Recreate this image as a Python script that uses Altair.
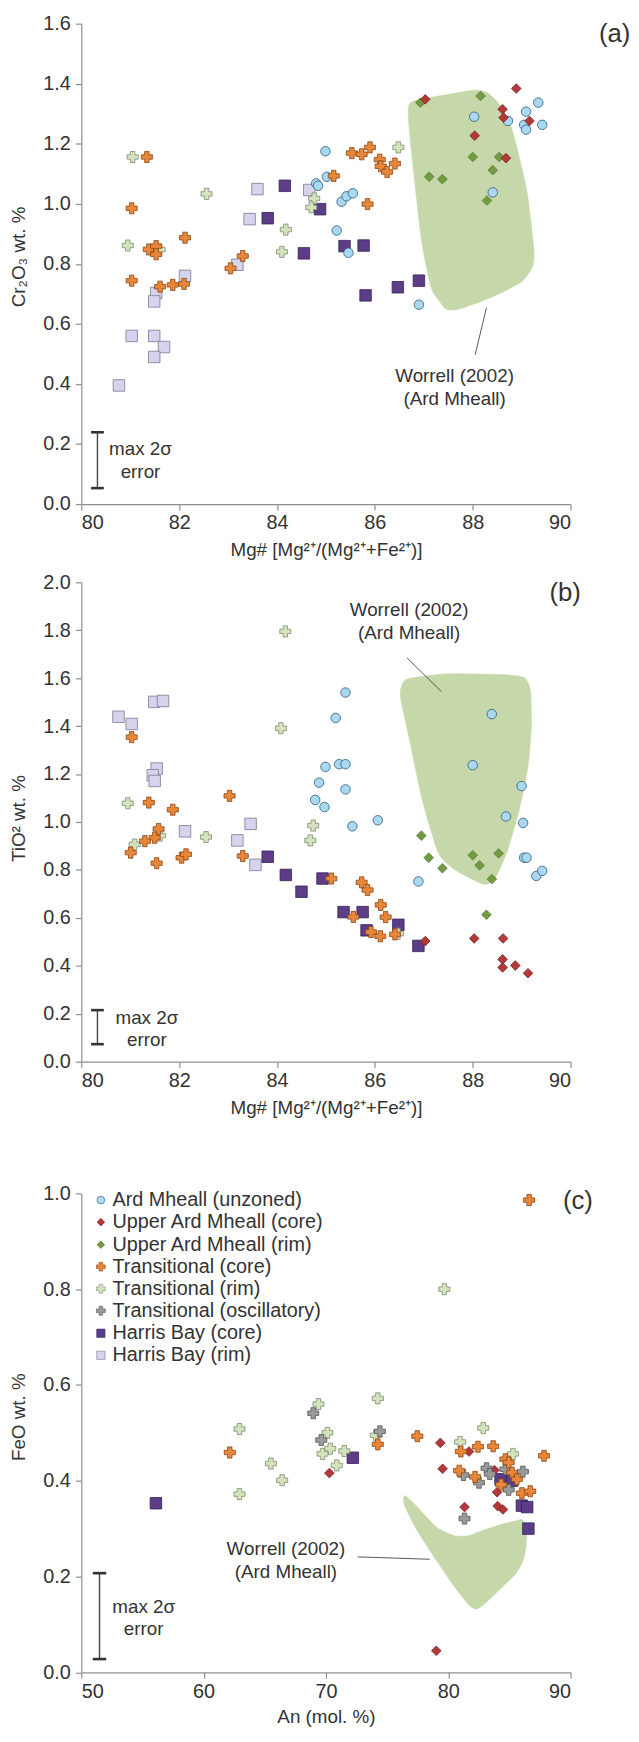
import altair as alt
import pandas as pd

FONT = "Liberation Sans, Arial, Helvetica, sans-serif"
TXT = "#333333"
GREEN_FIELD = "#c6d8aa"

# ---------------- groups / styles ----------------
groups = ["Ard Mheall (unzoned)", "Upper Ard Mheall (core)", "Upper Ard Mheall (rim)",
          "Transitional (core)", "Transitional (rim)", "Transitional (oscillatory)",
          "Harris Bay (core)", "Harris Bay (rim)"]
shapes = ["circle", "diamond", "diamond", "cross", "cross", "cross", "square", "square"]
fills = ["#a9d9f1", "#b3383a", "#739b43", "#e8863a", "#d3e3be", "#9a9a9a", "#5c3d87", "#d6d4ec"]
strokes = ["#2d5a74", "#7e2424", "#5b7d34", "#8a4714", "#7d8c6d", "#555555", "#362257", "#7b7993"]
sizes = [92, 95, 95, 125, 125, 125, 135, 135]
legend_sizes = [62, 60, 60, 80, 80, 80, 70, 70]
draw_order = [7, 6, 0, 2, 1, 4, 5, 3]

# ---------------- panel (a): Cr2O3 vs Mg# ----------------
a_amu_x = [84.99, 84.80, 84.84, 85.02, 85.32, 85.42, 85.55, 85.22, 85.46, 86.90, 88.03, 88.41, 88.72, 89.09, 89.34, 89.05, 89.09, 89.42]
a_amu_y = [1.175, 1.068, 1.060, 1.090, 1.007, 1.025, 1.035, 0.911, 0.837, 0.664, 1.290, 1.038, 1.276, 1.307, 1.337, 1.263, 1.247, 1.263]
a_uac_x = [87.03, 88.89, 88.61, 88.63, 89.16, 88.04, 88.68]
a_uac_y = [1.348, 1.384, 1.315, 1.287, 1.276, 1.227, 1.152]
a_uar_x = [86.93, 88.16, 88.00, 88.54, 88.41, 87.11, 87.38, 88.29]
a_uar_y = [1.337, 1.359, 1.156, 1.156, 1.112, 1.090, 1.082, 1.011]
a_tc_x = [81.34, 81.03, 81.03, 81.38, 81.53, 81.53, 81.61, 81.87, 82.10, 82.12, 83.05, 83.30, 85.16, 85.53, 85.73, 85.90, 86.10, 86.12, 86.25, 86.41, 85.85]
a_tc_y = [1.156, 0.985, 0.744, 0.848, 0.859, 0.832, 0.724, 0.730, 0.733, 0.887, 0.785, 0.826, 1.093, 1.169, 1.165, 1.188, 1.147, 1.125, 1.106, 1.134, 0.999]
a_tr_x = [81.05, 82.56, 80.95, 81.60, 84.18, 84.10, 84.76, 84.70, 86.48]
a_tr_y = [1.156, 1.033, 0.861, 0.848, 0.914, 0.840, 1.018, 0.988, 1.188]
a_hbc_x = [84.16, 83.81, 84.88, 84.55, 85.38, 85.77, 85.81, 86.47, 86.90]
a_hbc_y = [1.060, 0.952, 0.982, 0.835, 0.859, 0.861, 0.695, 0.722, 0.744]
a_hbr_x = [83.60, 83.44, 84.66, 83.19, 82.12, 81.53, 81.49, 81.03, 81.49, 81.69, 81.49, 80.77]
a_hbr_y = [1.049, 0.949, 1.046, 0.797, 0.760, 0.703, 0.675, 0.560, 0.560, 0.523, 0.490, 0.395]
a_poly_x = [86.70, 86.85, 88.00, 88.30, 88.55, 88.80, 89.10, 89.25, 89.22, 89.00, 88.40, 87.70, 87.45, 87.30, 87.15, 86.95, 86.73, 86.68]
a_poly_y = [1.330, 1.345, 1.378, 1.370, 1.330, 1.250, 1.050, 0.850, 0.790, 0.740, 0.690, 0.648, 0.650, 0.680, 0.720, 0.880, 1.200, 1.300]

# ---------------- panel (b): TiO2 vs Mg# ----------------
b_amu_x = [85.40, 85.20, 84.99, 85.27, 85.40, 84.86, 85.40, 84.78, 84.97, 85.54, 86.06, 88.39, 88.00, 89.00, 88.68, 89.03, 89.05, 89.10, 89.30, 89.42, 86.89]
b_amu_y = [1.540, 1.434, 1.230, 1.241, 1.241, 1.164, 1.136, 1.092, 1.062, 0.982, 1.007, 1.450, 1.237, 1.150, 1.023, 0.996, 0.851, 0.851, 0.775, 0.796, 0.752]
b_uac_x = [87.03, 88.03, 88.62, 88.61, 88.61, 88.87, 89.13]
b_uac_y = [0.503, 0.514, 0.514, 0.427, 0.393, 0.401, 0.369]
b_uar_x = [86.95, 87.10, 87.38, 88.00, 88.14, 88.53, 88.39, 88.28]
b_uar_y = [0.943, 0.851, 0.807, 0.861, 0.819, 0.869, 0.762, 0.613]
b_tc_x = [81.03, 81.38, 81.87, 83.03, 81.58, 81.50, 81.30, 81.01, 81.54, 82.05, 82.14, 83.30, 85.11, 85.73, 85.85, 86.12, 86.22, 85.56, 85.92, 86.11, 86.41]
b_tc_y = [1.354, 1.081, 1.051, 1.109, 0.971, 0.934, 0.920, 0.872, 0.828, 0.851, 0.865, 0.858, 0.764, 0.748, 0.716, 0.654, 0.603, 0.604, 0.541, 0.523, 0.531]
b_tr_x = [84.17, 84.08, 80.95, 81.09, 81.61, 82.55, 84.74, 84.68, 86.47]
b_tr_y = [1.795, 1.391, 1.078, 0.906, 0.943, 0.937, 0.985, 0.923, 0.534]
b_hbc_x = [83.81, 84.18, 84.50, 84.93, 85.36, 85.75, 85.83, 86.48, 86.89]
b_hbc_y = [0.855, 0.779, 0.709, 0.764, 0.624, 0.624, 0.548, 0.571, 0.483]
b_hbr_x = [80.76, 81.03, 81.49, 81.67, 81.54, 81.46, 81.50, 82.12, 83.19, 83.46, 83.56]
b_hbr_y = [1.439, 1.409, 1.501, 1.505, 1.223, 1.195, 1.171, 0.961, 0.923, 0.992, 0.821]
b_poly_x = [86.52, 86.65, 87.50, 88.60, 89.05, 89.18, 89.20, 89.13, 88.95, 88.72, 88.50, 88.32, 88.15, 87.64, 87.30, 86.97, 86.70]
b_poly_y = [1.530, 1.595, 1.618, 1.615, 1.603, 1.550, 1.400, 1.230, 1.050, 0.886, 0.780, 0.742, 0.745, 0.800, 0.870, 1.090, 1.350]

# ---------------- panel (c): FeO vs An ----------------
c_uac_x = [70.28, 79.35, 81.70, 79.54, 83.78, 83.99, 81.33, 84.04, 84.47, 79.02]
c_uac_y = [0.416, 0.479, 0.461, 0.425, 0.422, 0.376, 0.345, 0.347, 0.340, 0.045]
c_tc_x = [86.61, 62.14, 74.24, 77.47, 81.03, 82.43, 83.67, 84.67, 84.94, 87.83, 80.89, 82.19, 85.21, 85.61, 84.32, 86.02, 86.70]
c_tc_y = [0.986, 0.459, 0.476, 0.493, 0.461, 0.471, 0.472, 0.445, 0.438, 0.452, 0.421, 0.408, 0.417, 0.403, 0.392, 0.374, 0.378]
c_tr_x = [62.93, 65.50, 66.42, 62.93, 69.39, 70.12, 70.35, 69.72, 70.88, 71.50, 74.24, 74.08, 80.97, 82.86, 85.29, 79.68]
c_tr_y = [0.508, 0.436, 0.401, 0.372, 0.560, 0.500, 0.467, 0.456, 0.432, 0.462, 0.572, 0.495, 0.481, 0.510, 0.456, 0.800]
c_to_x = [68.96, 69.62, 74.41, 81.24, 82.51, 83.13, 83.40, 84.67, 86.10, 84.94, 81.33]
c_to_y = [0.541, 0.485, 0.503, 0.412, 0.396, 0.426, 0.414, 0.424, 0.419, 0.381, 0.321]
c_hbc_x = [56.10, 72.20, 84.27, 85.21, 86.02, 86.45, 86.55]
c_hbc_y = [0.353, 0.448, 0.403, 0.400, 0.348, 0.345, 0.300]
c_poly_x = [76.45, 77.30, 78.20, 79.20, 80.50, 81.60, 82.80, 84.50, 85.60, 86.10, 86.40, 86.35, 86.10, 85.50, 84.50, 83.20, 82.35, 81.70, 80.30, 78.60, 77.30, 76.40]
c_poly_y = [0.369, 0.350, 0.325, 0.300, 0.285, 0.285, 0.296, 0.310, 0.317, 0.318, 0.290, 0.260, 0.232, 0.205, 0.180, 0.148, 0.132, 0.140, 0.186, 0.250, 0.303, 0.350]

# legend rows for panel (c)
legend_sym_x = 51.6
legend_txt_x = 52.55
legend_y = [0.986, 0.940, 0.893, 0.847, 0.801, 0.755, 0.708, 0.662]

# annotations
note_lines = ["Worrell (2002)", "(Ard Mheall)"]
err_lines = ["max 2σ", "error"]
a_note_x, a_note_y = 87.63, [0.425, 0.349]
b_note_x, b_note_y = 86.70, [1.884, 1.790]
c_note_x, c_note_y = 66.73, [0.2565, 0.210]
a_leader = ([88.05], [0.497], [88.28], [0.654])
b_leader = ([86.66], [1.684], [87.36], [1.544])
c_leader = ([72.60], [0.241], [78.48], [0.236])
a_err = dict(x=80.33, lo=0.053, hi=0.239, half=0.13, tx=81.21, ty=[0.184, 0.108])
b_err = dict(x=80.33, lo=0.073, hi=0.215, half=0.13, tx=81.34, ty=[0.183, 0.091])
c_err = dict(x=51.49, lo=0.0276, hi=0.207, half=0.55, tx=55.10, ty=[0.1365, 0.091])
tags = ["(a)", "(b)", "(c)"]
tag_x = [90.90, 89.89, 90.60]
tag_y = [1.564, 1.956, 0.983]

W = 494
H_A, H_B = 485, 484
H_C, C_TOP = 537.5, 54


def points_df(series):
    rows = []
    for gi in draw_order:
        g = groups[gi]
        if g in series:
            xs, ys = series[g]
            for x, y in zip(xs, ys):
                rows.append({"x": x, "y": y, "group": g, "sz": sizes[gi]})
    return pd.DataFrame(rows)


def panel(xsc, ysc, xax, yax, pts, poly_x, poly_y, note_x, note_y, leader, err,
          tag, tx, ty, height, legend=False):
    X = alt.X("x:Q", scale=xsc, axis=xax)
    Y = alt.Y("y:Q", scale=ysc, axis=yax)
    layers = []
    poly = pd.DataFrame({"x": poly_x, "y": poly_y, "i": list(range(len(poly_x)))})
    layers.append(alt.Chart(poly).mark_line(
        interpolate="cardinal-closed", tension=0.4, fill=GREEN_FIELD, stroke=GREEN_FIELD,
        strokeWidth=0.5, opacity=1).encode(x=X, y=Y, order=alt.Order("i:Q")))
    ld = pd.DataFrame({"x": leader[0], "y": leader[1], "x2": leader[2], "y2": leader[3]})
    layers.append(alt.Chart(ld).mark_rule(color="#444444", strokeWidth=0.9).encode(
        x=X, y=Y, x2=alt.X2("x2:Q"), y2=alt.Y2("y2:Q")))
    ev = pd.DataFrame({"x": [err["x"]], "y": [err["lo"]], "y2": [err["hi"]]})
    layers.append(alt.Chart(ev).mark_rule(color="#444444", strokeWidth=1.4).encode(
        x=X, y=Y, y2=alt.Y2("y2:Q")))
    ec = pd.DataFrame({"x": [err["x"] - err["half"]] * 2, "x2": [err["x"] + err["half"]] * 2,
                       "y": [err["lo"], err["hi"]]})
    layers.append(alt.Chart(ec).mark_rule(color="#333333", strokeWidth=2.6).encode(
        x=X, x2=alt.X2("x2:Q"), y=Y))
    et = pd.DataFrame({"x": [err["tx"]] * 2, "y": err["ty"], "t": err_lines})
    layers.append(alt.Chart(et).mark_text(font=FONT, fontSize=19, color=TXT, align="center",
                                          baseline="middle").encode(x=X, y=Y, text="t:N"))
    nt = pd.DataFrame({"x": [note_x] * 2, "y": note_y, "t": note_lines})
    layers.append(alt.Chart(nt).mark_text(font=FONT, fontSize=19, color=TXT, align="center",
                                          baseline="middle").encode(x=X, y=Y, text="t:N"))
    layers.append(alt.Chart(pts).mark_point(filled=True, opacity=1, strokeWidth=0.8).encode(
        x=X, y=Y,
        shape=alt.Shape("group:N", scale=alt.Scale(domain=groups, range=shapes), legend=None),
        fill=alt.Fill("group:N", scale=alt.Scale(domain=groups, range=fills), legend=None),
        stroke=alt.Stroke("group:N", scale=alt.Scale(domain=groups, range=strokes), legend=None),
        size=alt.Size("sz:Q", scale=None, legend=None)))
    if legend:
        lg = pd.DataFrame({"x": [legend_sym_x] * len(groups), "y": legend_y, "group": groups,
                           "sz": legend_sizes})
        layers.append(alt.Chart(lg).mark_point(filled=True, opacity=1, strokeWidth=0.6).encode(
            x=X, y=Y,
            shape=alt.Shape("group:N", scale=alt.Scale(domain=groups, range=shapes), legend=None),
            fill=alt.Fill("group:N", scale=alt.Scale(domain=groups, range=fills), legend=None),
            stroke=alt.Stroke("group:N", scale=alt.Scale(domain=groups, range=strokes), legend=None),
            size=alt.Size("sz:Q", scale=None, legend=None)))
        lt = pd.DataFrame({"x": [legend_txt_x] * len(groups), "y": legend_y, "t": groups})
        layers.append(alt.Chart(lt).mark_text(font=FONT, fontSize=20, color=TXT, align="left",
                                              baseline="middle").encode(x=X, y=Y, text="t:N"))
    tg = pd.DataFrame({"x": [tx], "y": [ty], "t": [tag]})
    layers.append(alt.Chart(tg).mark_text(font=FONT, fontSize=26, color=TXT, align="center",
                                          baseline="middle").encode(x=X, y=Y, text="t:N"))
    return alt.layer(*layers).properties(width=W, height=height)


def xaxis(title, values, title_off):
    return alt.Axis(title=title, values=values, format="d", grid=False, tickSize=6,
                    labelPadding=3, titleY=title_off, titleX=W / 2, titleBaseline="middle")


def yaxis(title, values, title_y):
    return alt.Axis(title=title, values=values, format=".1f", grid=False, tickSize=6,
                    labelPadding=5, titleAngle=270, titleX=-63, titleY=title_y,
                    titleBaseline="middle", titleAlign="center")


mg_ticks = [80, 82, 84, 86, 88, 90]
an_ticks = [50, 60, 70, 80, 90]
cr_ticks = [0, 0.2, 0.4, 0.6, 0.8, 1.0, 1.2, 1.4, 1.6]
ti_ticks = [0, 0.2, 0.4, 0.6, 0.8, 1.0, 1.2, 1.4, 1.6, 1.8, 2.0]
fe_ticks = [0, 0.2, 0.4, 0.6, 0.8, 1.0]
mg_title = "Mg# [Mg²⁺/(Mg²⁺+Fe²⁺)]"

pa = panel(alt.Scale(domain=[80, 90], nice=False, zero=False),
           alt.Scale(domain=[0, 1.6], nice=False, zero=False),
           xaxis(mg_title, mg_ticks, 46), yaxis("Cr₂O₃ wt. %", cr_ticks, 235),
           points_df({groups[0]: (a_amu_x, a_amu_y), groups[1]: (a_uac_x, a_uac_y),
                      groups[2]: (a_uar_x, a_uar_y), groups[3]: (a_tc_x, a_tc_y),
                      groups[4]: (a_tr_x, a_tr_y), groups[6]: (a_hbc_x, a_hbc_y),
                      groups[7]: (a_hbr_x, a_hbr_y)}),
           a_poly_x, a_poly_y, a_note_x, a_note_y, a_leader, a_err,
           tags[0], tag_x[0], tag_y[0], H_A)

pb = panel(alt.Scale(domain=[80, 90], nice=False, zero=False),
           alt.Scale(domain=[0, 2.0], nice=False, zero=False),
           xaxis(mg_title, mg_ticks, 46), yaxis("TiO² wt. %", ti_ticks, 238),
           points_df({groups[0]: (b_amu_x, b_amu_y), groups[1]: (b_uac_x, b_uac_y),
                      groups[2]: (b_uar_x, b_uar_y), groups[3]: (b_tc_x, b_tc_y),
                      groups[4]: (b_tr_x, b_tr_y), groups[6]: (b_hbc_x, b_hbc_y),
                      groups[7]: (b_hbr_x, b_hbr_y)}),
           b_poly_x, b_poly_y, b_note_x, b_note_y, b_leader, b_err,
           tags[1], tag_x[1], tag_y[1], H_B)

pc = panel(alt.Scale(domain=[50, 90], nice=False, zero=False),
           alt.Scale(domain=[0, 1.0], nice=False, zero=False, range=[H_C, C_TOP]),
           xaxis("An (mol. %)", an_ticks, 45), yaxis("FeO wt. %", fe_ticks, 279.5),
           points_df({groups[1]: (c_uac_x, c_uac_y), groups[3]: (c_tc_x, c_tc_y),
                      groups[4]: (c_tr_x, c_tr_y), groups[5]: (c_to_x, c_to_y),
                      groups[6]: (c_hbc_x, c_hbc_y)}),
           c_poly_x, c_poly_y, c_note_x, c_note_y, c_leader, c_err,
           tags[2], tag_x[2], tag_y[2], H_C, legend=True)

chart = alt.vconcat(pa, pb, pc, spacing=79, bounds="flush").resolve_scale(
    x="independent", y="independent"
).properties(
    padding={"left": 2, "top": -2.5, "right": 0, "bottom": 0}
).configure_axis(
    domainColor="#8f8f8f", tickColor="#8f8f8f", domainWidth=1.2, tickWidth=1.2,
    labelFont=FONT, labelFontSize=20, labelColor=TXT,
    titleFont=FONT, titleFontSize=19, titleColor=TXT, titleFontWeight="normal"
).configure_view(strokeWidth=0)

chart.save("out.html", embed_options={"renderer": "svg", "actions": False})
